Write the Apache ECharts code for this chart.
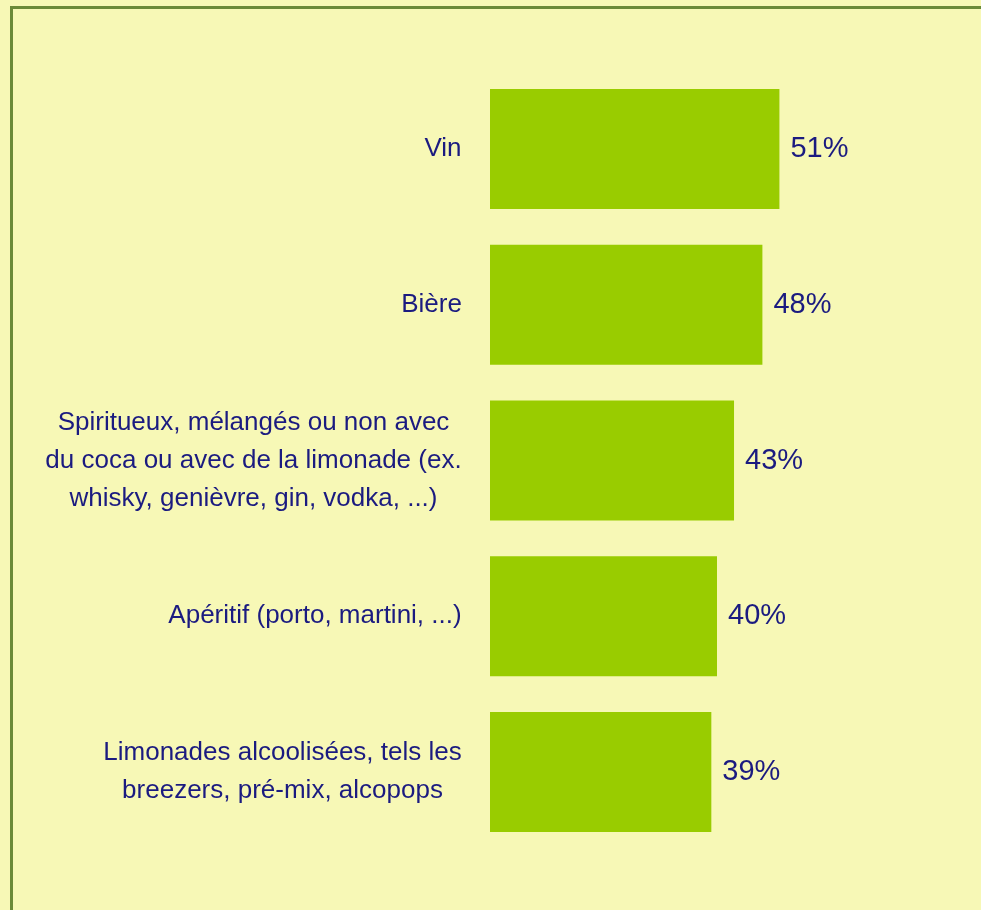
<!DOCTYPE html>
<html>
<head>
<meta charset="utf-8">
<script src="https://cdn.jsdelivr.net/npm/echarts@6/dist/echarts.min.js"></script>
<style>
html,body{margin:0;padding:0;background:#F7F8B6;}
#c{width:981px;height:910px;}
</style>
</head>
<body>
<div id="c"></div>
<script>
const categories = [
  "Vin",
  "Bière",
  "Spiritueux, mélangés ou non avec\ndu coca ou avec de la limonade (ex.\nwhisky, genièvre, gin, vodka, ...)",
  "Apéritif (porto, martini, ...)",
  "Limonades alcoolisées, tels les\nbreezers, pré-mix, alcopops"
];
const values = [51, 48, 43, 40, 39];

const labelFont = '26px "Liberation Sans", Arial, sans-serif';
const ctx = document.createElement('canvas').getContext('2d');
ctx.font = labelFont;
const rich = {};
categories.forEach((c, i) => {
  const w = Math.max(...c.split('\n').map(l => ctx.measureText(l).width));
  rich['c' + i] = { width: Math.ceil(w) + 2, align: 'center', fontSize: 26, lineHeight: 38,
    fontFamily: '"Liberation Sans", Arial, sans-serif', color: '#1B1B80' };
});

const chart = echarts.init(document.getElementById('c'), null, { renderer: 'canvas' });
chart.setOption({
  backgroundColor: '#F7F8B6',
  animation: false,
  graphic: [{
    type: 'rect',
    shape: { x: 11.5, y: 7.5, width: 2000, height: 2000 },
    style: { fill: 'none', stroke: '#6B8A38', lineWidth: 3 },
    silent: true, z: -1
  }],
  grid: { left: 490, top: 71, width: 454, height: 779, containLabel: false },
  xAxis: { type: 'value', min: 0, max: 80, show: false },
  yAxis: {
    type: 'category', data: categories, inverse: true,
    axisLine: { show: false }, axisTick: { show: false }, splitLine: { show: false },
    axisLabel: {
      margin: 27,
      formatter: function (v, i) {
        return v.split('\n').map(l => '{c' + i + '|' + l + '}').join('\n');
      },
      rich: rich
    }
  },
  series: [{
    type: 'bar', data: values, barCategoryGap: '23%',
    itemStyle: { color: '#99CC00' },
    label: {
      show: true, position: 'right', distance: 11, formatter: '{c}%',
      fontSize: 29, color: '#1B1B80', fontFamily: '"Liberation Sans", Arial, sans-serif'
    }
  }]
});
</script>
</body>
</html>
